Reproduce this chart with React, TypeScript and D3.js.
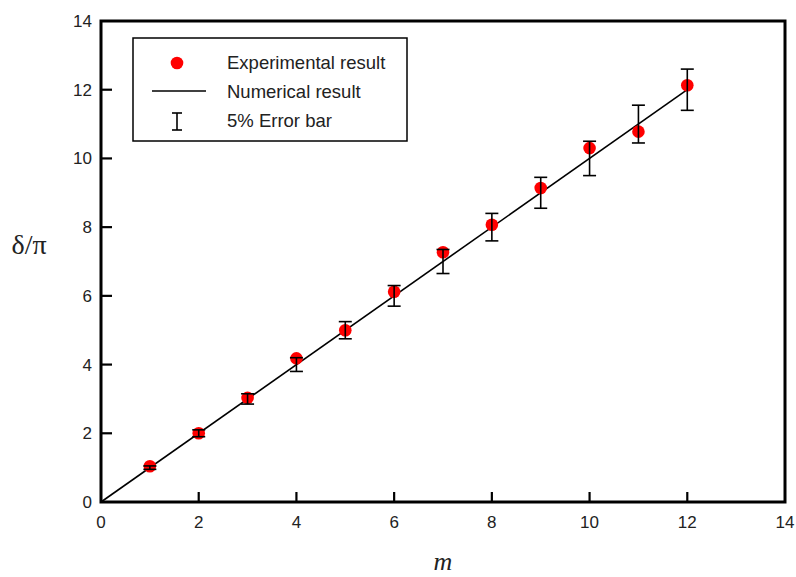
import React from "react";
import * as d3 from "d3";

const mValues = [1, 2, 3, 4, 5, 6, 7, 8, 9, 10, 11, 12];
const experimental = [1.04, 2.0, 3.03, 4.18, 5.0, 6.12, 7.27, 8.07, 9.14, 10.3, 10.78, 12.13];
const errLow = [0.95, 1.9, 2.85, 3.8, 4.75, 5.7, 6.65, 7.6, 8.55, 9.5, 10.45, 11.4];
const errHigh = [1.05, 2.1, 3.15, 4.2, 5.25, 6.3, 7.35, 8.4, 9.45, 10.5, 11.55, 12.6];
const numericalM = [0, 12];
const numericalV = [0, 12];
const xTicks = [0, 2, 4, 6, 8, 10, 12, 14];
const yTicks = [0, 2, 4, 6, 8, 10, 12, 14];
const legendLabels = ["Experimental result", "Numerical result", "5% Error bar"];

export default function App() {
  const W = 796, H = 577;
  const left = 101, right = 785, top = 21, bottom = 502;
  const x = d3.scaleLinear().domain([0, 14]).range([left, right]);
  const y = d3.scaleLinear().domain([0, 14]).range([bottom, top]);
  const line = d3.line<number>().x((d, i) => x(numericalM[i])).y((d) => y(d));
  const font = "Arial, 'Liberation Sans', sans-serif";
  const cap = 6.5;
  return (
    <svg width={W} height={H} style={{ position: "absolute", left: 0, top: 0 }}>
      <rect width={W} height={H} fill="#fff" />
      {/* ticks */}
      {xTicks.slice(1, -1).map((t) => (
        <line key={"xt" + t} x1={x(t)} x2={x(t)} y1={bottom} y2={bottom - 10} stroke="#000" strokeWidth={2.2} />
      ))}
      {yTicks.slice(1, -1).map((t) => (
        <line key={"yt" + t} x1={left} x2={left + 11} y1={y(t)} y2={y(t)} stroke="#000" strokeWidth={2.2} />
      ))}
      {xTicks.map((t) => (
        <text key={"xl" + t} x={x(t)} y={528} textAnchor="middle" fontFamily={font} fontSize={17} fill="#222">{t}</text>
      ))}
      {yTicks.map((t) => (
        <text key={"yl" + t} x={92} y={y(t) + 6} textAnchor="end" fontFamily={font} fontSize={17} fill="#222">{t}</text>
      ))}
      {/* numerical line */}
      <path d={line(numericalV) || ""} fill="none" stroke="#000" strokeWidth={1.6} />
      {/* points */}
      {mValues.map((m, i) => (
        <circle key={"p" + m} cx={x(m)} cy={y(experimental[i])} r={6.3} fill="#f00" />
      ))}
      {/* error bars */}
      {mValues.map((m, i) => (
        <g key={"e" + m} stroke="#000" strokeWidth={1.6}>
          <line x1={x(m)} x2={x(m)} y1={y(errLow[i])} y2={y(errHigh[i])} />
          <line x1={x(m) - cap} x2={x(m) + cap} y1={y(errLow[i])} y2={y(errLow[i])} />
          <line x1={x(m) - cap} x2={x(m) + cap} y1={y(errHigh[i])} y2={y(errHigh[i])} />
        </g>
      ))}
      {/* frame */}
      <rect x={left} y={top} width={right - left} height={bottom - top} fill="none" stroke="#000" strokeWidth={3} />
      {/* legend */}
      <rect x={133} y={38} width={274} height={103} fill="#fff" stroke="#000" strokeWidth={1.5} />
      <circle cx={177} cy={63} r={6.3} fill="#f00" />
      <line x1={152} x2={206} y1={91} y2={91} stroke="#000" strokeWidth={1.6} />
      <g stroke="#000" strokeWidth={1.6}>
        <line x1={177} x2={177} y1={113} y2={130} />
        <line x1={172} x2={182} y1={113} y2={113} />
        <line x1={172} x2={182} y1={130} y2={130} />
      </g>
      {legendLabels.map((l, i) => (
        <text key={l} x={227} y={69 + i * 29} fontFamily={font} fontSize={18.5} fill="#222">{l}</text>
      ))}
      {/* axis titles */}
      <text x={443} y={570} textAnchor="middle" fontFamily="'Liberation Serif', 'Times New Roman', serif" fontStyle="italic" fontSize={26} fill="#222">m</text>
      <text x={29} y={254} textAnchor="middle" fontFamily="'Liberation Serif', 'Times New Roman', serif" fontSize={28} fill="#222">δ/π</text>
    </svg>
  );
}
